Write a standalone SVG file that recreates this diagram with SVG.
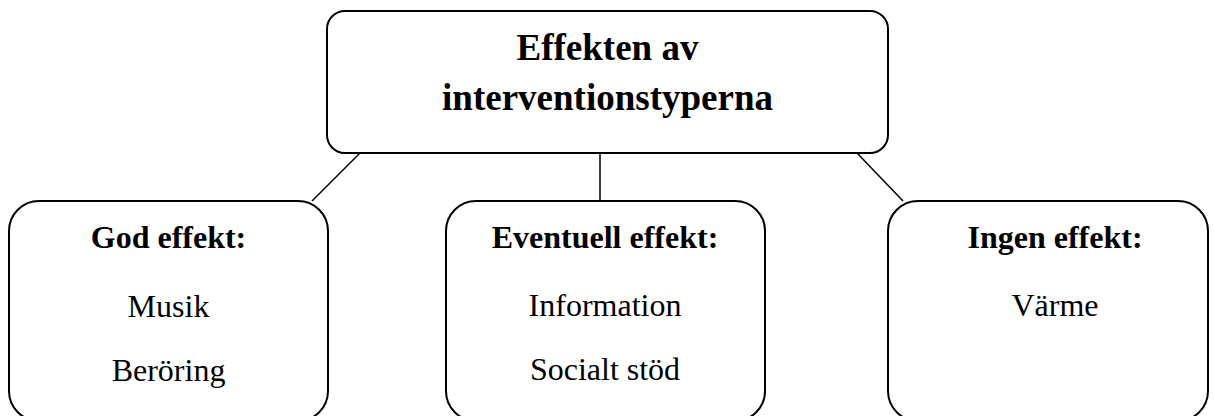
<svg xmlns="http://www.w3.org/2000/svg" width="1214" height="416" viewBox="0 0 1214 416">
<style>
.box{fill:#fff;stroke:#000;stroke-width:2}
.con line{stroke:#000;stroke-width:1.5}
text{font-family:"Liberation Serif","Times New Roman",serif;fill:#000;text-anchor:middle}
.t{font-size:37px;font-weight:bold}
.h{font-size:32px;font-weight:bold}
.b{font-size:32px}
</style>
<rect width="1214" height="416" fill="#fff"/>
<g class="con" id="connectors">
<line x1="360" y1="153" x2="312" y2="201"/>
<line x1="600" y1="153" x2="600" y2="201"/>
<line x1="857" y1="153" x2="903" y2="201"/>
</g>
<g id="root">
<rect class="box" x="327" y="11" width="561" height="142" rx="18"/>
<text class="t" x="607.5" y="60">Effekten av</text>
<text class="t" x="607.5" y="110">interventionstyperna</text>
</g>
<g id="god">
<rect class="box" x="9" y="201" width="319" height="220" rx="30"/>
<text class="h" x="168.5" y="248">God effekt:</text>
<text class="b" x="168.5" y="317">Musik</text>
<text class="b" x="168.5" y="381">Beröring</text>
</g>
<g id="eventuell">
<rect class="box" x="446" y="201" width="319" height="220" rx="30"/>
<text class="h" x="605" y="248">Eventuell effekt:</text>
<text class="b" x="605" y="316">Information</text>
<text class="b" x="605" y="380">Socialt stöd</text>
</g>
<g id="ingen">
<rect class="box" x="888" y="201" width="320" height="220" rx="30"/>
<text class="h" x="1055" y="248">Ingen effekt:</text>
<text class="b" x="1055" y="316">Värme</text>
</g>
</svg>
